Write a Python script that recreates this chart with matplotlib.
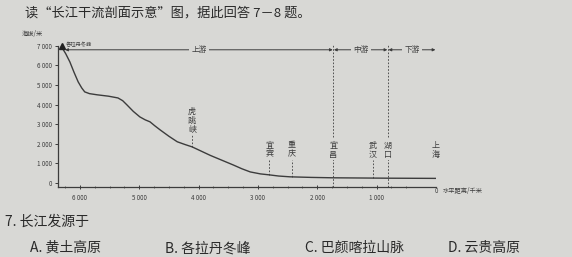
import matplotlib
matplotlib.use("Agg")
import matplotlib.pyplot as plt

plt.rcParams['font.family'] = ['Noto Sans CJK SC', 'DejaVu Sans']

# profile of the river: distance to the sea (km) and elevation (m)
dist = [6300, 6240, 6170, 6100, 6030, 5970, 5920, 5840, 5710, 5520, 5360, 5280,
        5210, 5100, 4990, 4900, 4820, 4740, 4650, 4500, 4360, 4230, 4110, 3800,
        3420, 3270, 3130, 2960, 2810, 2650, 2460, 2100, 1730, 810, 0]
elev = [6900, 6600, 6180, 5650, 5160, 4850, 4650, 4560, 4500, 4430, 4340, 4200,
        3990, 3650, 3370, 3220, 3120, 2920, 2710, 2380, 2100, 1960, 1840, 1400,
        920, 720, 560, 460, 410, 350, 310, 280, 260, 240, 230]

# places along the river
places = ['虎跳峡', '宜宾', '重庆', '宜昌', '武汉', '湖口', '上海']
place_dist = [4110, 2810, 2430, 1730, 1060, 810, 0]
place_elev = [1840, 410, 320, 260, 245, 240, 230]
full_lines = ['宜昌', '湖口', '上海']

yticks = [0, 1000, 2000, 3000, 4000, 5000, 6000, 7000]
xticks = [6000, 5000, 4000, 3000, 2000, 1000]

title = '读“长江干流剖面示意”图，据此回答 7－8 题。'
question = '7. 长江发源于'
options = ['A. 黄土高原', 'B. 各拉丹冬峰', 'C. 巴颜喀拉山脉', 'D. 云贵高原']
option_x = [30, 165, 305, 448]

bg = '#d8d8d5'
ink = '#3c3c3c'

W, H = 572, 257
fig = plt.figure(figsize=(W / 100, H / 100), dpi=100, facecolor=bg)

def fx(px):
    return px / W

def fy(py):
    return 1 - py / H

ax = fig.add_axes([fx(58), fy(187), fx(436 - 58), fy(40) - fy(187)])
ax.set_facecolor(bg)
ax.set_xlim(6370, 0)
ax.set_ylim(-210, 7300)

ax.plot(dist, elev, color=ink, lw=1.0, solid_joinstyle='round')
ax.plot([dist[0]], [7000], marker='^', color='#222', ms=4)

for s in ['top', 'right']:
    ax.spines[s].set_visible(False)
ax.spines['left'].set_bounds(-210, 7000)
for s in ['left', 'bottom']:
    ax.spines[s].set_color(ink)
    ax.spines[s].set_linewidth(0.9)

ax.set_yticks(yticks)
ax.set_yticklabels([f'{v // 1000} 000' if v else '0' for v in yticks])
ax.set_xticks(xticks)
ax.set_xticklabels([f'{v // 1000} 000' for v in xticks])
ax.set_xticks(range(500, 6500, 250), minor=True)
ax.tick_params(axis='both', labelsize=4.5, colors=ink, length=2.5, width=0.7, pad=2)
ax.tick_params(axis='x', direction='inout', pad=4)
ax.tick_params(axis='x', which='minor', direction='inout', length=2, width=0.5, colors=ink)

# place labels with dashed guide lines
for name, d, e in zip(places, place_dist, place_elev):
    top = 2450 if name == '虎跳峡' else 1180
    if name in full_lines:
        ax.plot([d, d], [-210, 7050], ls=(0, (2, 2)), color=ink, lw=0.6)
    else:
        ax.plot([d, d], [e, top], ls=(0, (2, 2)), color=ink, lw=0.6)
    ax.text(d, top + 60, '\n'.join(name), ha='center', va='bottom', fontsize=5.8,
            color=ink, linespacing=1.0,
            bbox=dict(boxstyle='square,pad=0.15', fc=bg, ec='none'))

# upper / middle / lower course arrows
arrow_y = 6800
spans = [('上游', 6250, 1740), ('中游', 1720, 820), ('下游', 800, 10)]
for label, a, b in spans:
    ax.annotate('', xy=(a, arrow_y), xytext=(b, arrow_y),
                arrowprops=dict(arrowstyle='<|-|>', color=ink, lw=0.7,
                                mutation_scale=4, shrinkA=0, shrinkB=0))
    ax.text((a + b) / 2, arrow_y, label, ha='center', va='center', fontsize=5.5,
            color=ink, bbox=dict(boxstyle='square,pad=0.3', fc=bg, ec='none'))

ax.text(6230, 7050, '各拉丹冬峰', fontsize=3.8, color=ink, ha='left', va='center')

fig.text(fx(22), fy(34), '海拔/米', fontsize=4.5, color=ink, ha='left', va='center')
fig.text(fx(436), fy(191), '0', fontsize=4.5, color=ink, ha='center', va='center')
fig.text(fx(443), fy(191), '水平距离/千米', fontsize=4.5, color=ink, ha='left', va='center')

fig.text(fx(25), fy(13), title, fontsize=9.5, color='#2a2a2a', ha='left', va='center')
fig.text(fx(5), fy(222), question, fontsize=10, color='#2a2a2a', ha='left', va='center')
for opt, x in zip(options, option_x):
    fig.text(fx(x), fy(248), opt, fontsize=10, color='#2a2a2a', ha='left', va='center')

fig.savefig('out.png', dpi=100, facecolor=bg)
